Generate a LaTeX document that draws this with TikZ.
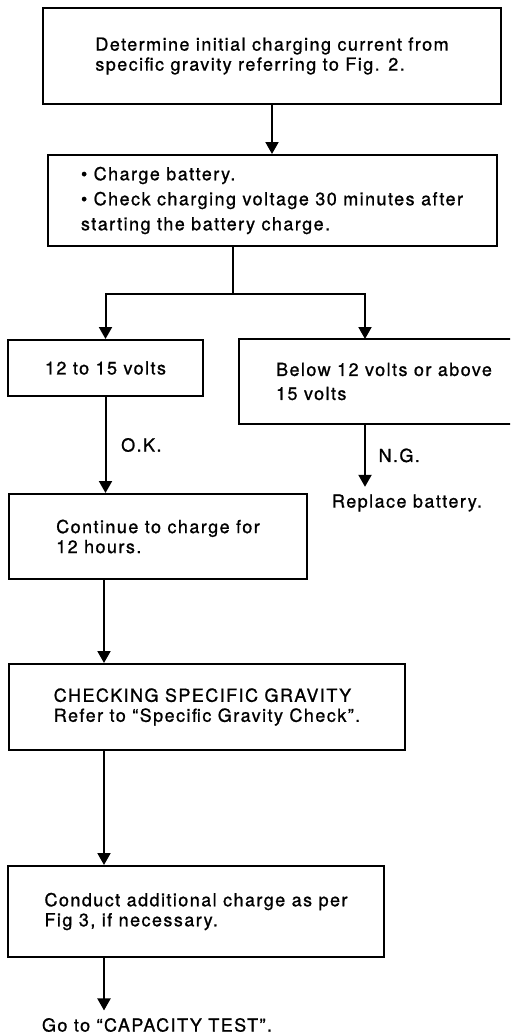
\documentclass[tikz,border=0pt]{standalone}
\usepackage{fontspec}
\setmainfont{TeX Gyre Heros}[LetterSpace=8,FakeBold=1]
\usetikzlibrary{positioning,arrows.meta}

\begin{document}
\begin{tikzpicture}[x=1pt,y=1pt,line width=1pt]
            \tikzset{my box/.style = {draw, rectangle, align=left, inner sep=0pt, font=\fontsize{9}{10}\selectfont}}
            \tikzset{my open box/.style = {rectangle, align=left, inner sep=0pt, font=\fontsize{9}{10}\selectfont}}
            \tikzset{my label/.style = {font=\fontsize{9}{10}\selectfont}}
            \tikzset{my arrow/.style = {-{Triangle[length=6pt,width=6.5pt]}}}
            \tikzset{my edge/.style = {-}}
            \useasboundingbox (0,0) rectangle (255,-516.5);
            \clip (0,0) rectangle (255,-516.5);
            \coordinate (f) at (116.5,-147);
            \coordinate (r) at (182.5,-147);
            \coordinate (s) at (52,-147);
            \node[my box, minimum width=229pt, minimum height=48pt, anchor=north west] (1) at (21,-3.5) {Determine initial charging current from\\specific gravity referring to Fig. 2.};
            \node[my box, minimum width=224.5pt, minimum height=45.5pt] (2) [below=24.5pt of 1] {\textbullet\ Charge battery.\\[2.5pt]\textbullet\ Check charging voltage 30 minutes after\\[2.5pt]starting the battery charge.};
            \node[my box, minimum width=97.5pt, minimum height=28pt, anchor=north west] (3) at (3.5,-169.5) {12 to 15 volts};
            \node[my open box, minimum width=144pt, minimum height=41.5pt] (4) [right=17.5pt of 3.north east, anchor=north west] {Below 12 volts or above\\[2pt]15 volts};
            \node[my box, minimum width=149pt, minimum height=42.5pt] (5) [below right=48pt and 0.5pt of 3.south west] {Continue to charge for\\12 hours.};
            \node[my box, minimum width=198pt, minimum height=43pt] (6) [below right=41.5pt and 0pt of 5.south west] {CHECKING SPECIFIC GRAVITY\\Refer to ``Specific Gravity Check''.};
            \node[my box, minimum width=188pt, minimum height=45.5pt] (7) [below right=57pt and -0.5pt of 6.south west] {Conduct additional charge as per\\Fig 3, if necessary.};
            \node[my label] (8) at (203.5,-251.5) {Replace battery.};
            \node[my label] (9) at (78.5,-512.5) {Go to ``CAPACITY TEST''.};
            \draw (4.north east) -- (4.north west) -- (4.south west) -- (4.south east);
            \draw[my arrow] (1) -- (1 |- 2.north);
            \draw[my edge] (2.south -| f) -- (f);
            \draw[my arrow] (f) -| (3.north);
            \draw[my arrow] (f) -| (4.north -| r);
            \draw[my arrow] (3) -- (3 |- 5.north) node[my label, pos=0.5, right=4pt] {O.K.};
            \draw[my arrow] (4.south -| r) -- (r |- 8.north) node[my label, midway, right=3pt] {N.G.};
            \draw[my arrow] (5.south -| s) -- (6.north -| s);
            \draw[my arrow] (6.south -| s) -- (7.north -| s);
            \draw[my arrow] (7.south -| s) -- (s |- 9.north);
        \end{tikzpicture}
\end{document}
